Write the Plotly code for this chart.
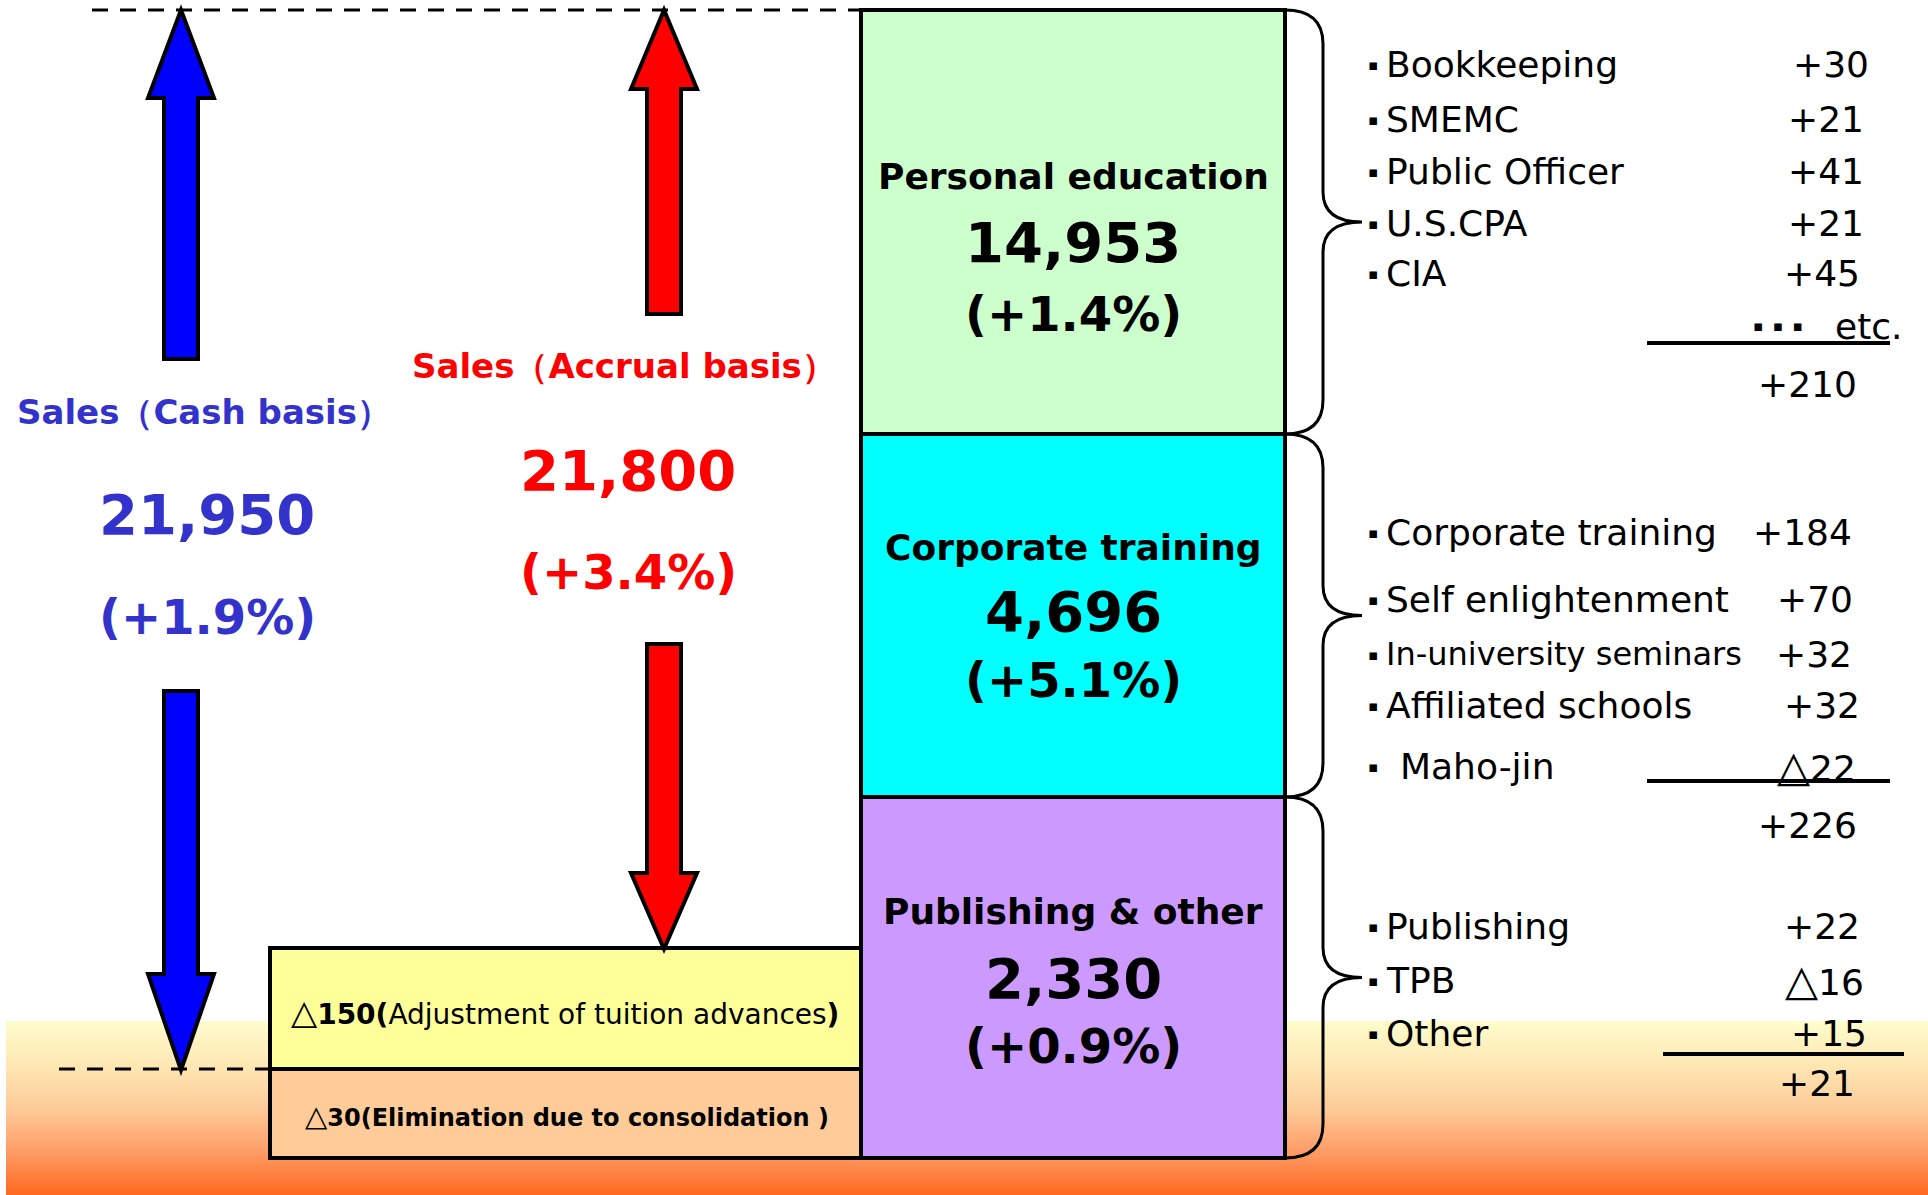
import plotly.graph_objects as go

# ---------------- data ----------------
segments = ["Personal education", "Corporate training", "Publishing & other"]
segment_sales = [14953, 4696, 2330]
segment_growth = [1.4, 5.1, 0.9]

cash_label = "Sales（Cash basis）"
cash_sales = 21950
cash_growth = 1.9
accrual_label = "Sales（Accrual basis）"
accrual_sales = 21800
accrual_growth = 3.4

tuition_adj = -150
tuition_label = "Adjustment of tuition advances"
elim_adj = -30
elim_label = "Elimination due to consolidation "

pe_items = ["Bookkeeping", "SMEMC", "Public Officer", "U.S.CPA", "CIA"]
pe_deltas = [30, 21, 41, 21, 45]
pe_total = 210

ct_items = ["Corporate training", "Self enlightenment", "In-university seminars",
            "Affiliated schools", "Maho-jin"]
ct_deltas = [184, 70, 32, 32, -22]
ct_total = 226

po_items = ["Publishing", "TPB", "Other"]
po_deltas = [22, -16, 15]
po_total = 21

# ---------------- helpers ----------------
FONT = "DejaVu Sans"
BLUE_TXT = "#3333cc"
RED_TXT = "#ff0000"


def tri(size):
    return f"<span style='font-size:{size}px'>△</span>"


def fmt_delta(v, size=36):
    return f"+{v}" if v >= 0 else f"{tri(round(size * 1.2))}{abs(v)}"


def fmt_num(v):
    return f"{v:,}"


def fmt_pct(v):
    return f"(+{v:.1f}%)"


def lerp_color(stops, t):
    for i in range(len(stops) - 1):
        t0, c0 = stops[i]
        t1, c1 = stops[i + 1]
        if t0 <= t <= t1:
            f = (t - t0) / (t1 - t0) if t1 > t0 else 0
            a = [int(c0[k:k + 2], 16) for k in (1, 3, 5)]
            b = [int(c1[k:k + 2], 16) for k in (1, 3, 5)]
            c = [round(a[j] + (b[j] - a[j]) * f) for j in range(3)]
            return "rgb(%d,%d,%d)" % tuple(c)
    return stops[-1][1]


fig = go.Figure()
fig.add_trace(go.Scatter(x=[0], y=[0], mode="markers", marker=dict(opacity=0),
                         hoverinfo="skip", showlegend=False))

shapes = []
annotations = []

# ---------------- background gradient ----------------
g_top, g_bot, g_left = 1021, 1195, 6
grad_stops = [(0.0, "#fffccc"), (0.25, "#fee8b4"), (0.5, "#fdcb99"),
              (0.75, "#fe9c66"), (1.0, "#ff6a1e")]
n_bands = 87
bh = (g_bot - g_top) / n_bands
for i in range(n_bands):
    t = (i + 0.5) / n_bands
    shapes.append(dict(type="rect", xref="x", yref="y", x0=g_left, x1=1928,
                       y0=g_top + i * bh, y1=g_top + (i + 1) * bh + 0.6,
                       fillcolor=lerp_color(grad_stops, t), line=dict(width=0),
                       layer="below"))

# ---------------- dashed guide lines ----------------
shapes.append(dict(type="line", x0=92, x1=861, y0=10, y1=10,
                   line=dict(color="black", width=3, dash="16px,12px")))
shapes.append(dict(type="line", x0=59, x1=270, y0=1069, y1=1069,
                   line=dict(color="black", width=3, dash="16px,12px")))

# ---------------- stacked segment boxes ----------------
box_x0, box_x1 = 861, 1285
box_edges = [10, 434, 797, 1158]
box_colors = ["#ccffcc", "#00ffff", "#cc99ff"]
for i in range(3):
    shapes.append(dict(type="rect", x0=box_x0, x1=box_x1, y0=box_edges[i],
                       y1=box_edges[i + 1], fillcolor=box_colors[i],
                       line=dict(color="black", width=4)))

# adjustment boxes
adj_x0, adj_x1 = 270, 861
adj_edges = [948, 1069, 1158]
adj_colors = ["#ffff99", "#ffcc99"]
for i in range(2):
    shapes.append(dict(type="rect", x0=adj_x0, x1=adj_x1, y0=adj_edges[i],
                       y1=adj_edges[i + 1], fillcolor=adj_colors[i],
                       line=dict(color="black", width=4)))


# ---------------- arrows ----------------
def arrow_path(cx, tip, base, tail, head_half=33, shaft_half=17):
    return (f"M {cx},{tip} L {cx - head_half},{base} L {cx - shaft_half},{base} "
            f"L {cx - shaft_half},{tail} L {cx + shaft_half},{tail} "
            f"L {cx + shaft_half},{base} L {cx + head_half},{base} Z")


arrows = [
    (181, 10, 98, 359, "#0000ff"),
    (181, 1070, 974, 691, "#0000ff"),
    (664, 10, 89, 314, "#ff0000"),
    (664, 949, 873, 644, "#ff0000"),
]
for cx, tip, base, tail, col in arrows:
    shapes.append(dict(type="path", path=arrow_path(cx, tip, base, tail),
                       fillcolor=col, line=dict(color="black", width=4)))


# ---------------- braces ----------------
def brace_path(y0, y1, xb=1285, xv=1323, xt=1362, r=34, rm=30):
    ym = (y0 + y1) / 2
    return (f"M {xb},{y0} Q {xv},{y0} {xv},{y0 + r} L {xv},{ym - rm} "
            f"Q {xv},{ym} {xt},{ym} Q {xv},{ym} {xv},{ym + rm} "
            f"L {xv},{y1 - r} Q {xv},{y1} {xb},{y1}")


for i in range(3):
    shapes.append(dict(type="path", path=brace_path(box_edges[i], box_edges[i + 1]),
                       line=dict(color="black", width=3)))


# ---------------- left texts ----------------
def ann(x, y, text, size, color="black", xanchor="center", bold=False):
    annotations.append(dict(x=x, y=y, xref="x", yref="y",
                            text=(f"<b>{text}</b>" if bold else text),
                            showarrow=False, xanchor=xanchor, yanchor="middle",
                            font=dict(family=FONT, size=size, color=color)))


ann(204, 412, cash_label, 34, BLUE_TXT, bold=True)
ann(207, 514, fmt_num(cash_sales), 56, BLUE_TXT, bold=True)
ann(207, 617, fmt_pct(cash_growth), 48, BLUE_TXT, bold=True)

ann(624, 366, accrual_label, 34, RED_TXT, bold=True)
ann(628, 470, fmt_num(accrual_sales), 56, RED_TXT, bold=True)
ann(628, 572, fmt_pct(accrual_growth), 48, RED_TXT, bold=True)

ann(565, 1012, f"<b>{tri(34)}{abs(tuition_adj)}(</b>{tuition_label}<b>)</b>", 28)
ann(567, 1116, f"{tri(29)}{abs(elim_adj)}({elim_label})", 24, bold=True)

# ---------------- segment texts ----------------
seg_title_y = [176, 547, 911]
seg_value_y = [242, 611, 978]
seg_pct_y = [314, 680, 1046]
seg_cx = (box_x0 + box_x1) / 2
for i in range(3):
    ann(seg_cx, seg_title_y[i], segments[i], 36, bold=True)
    ann(seg_cx, seg_value_y[i], fmt_num(segment_sales[i]), 56, bold=True)
    ann(seg_cx, seg_pct_y[i], fmt_pct(segment_growth[i]), 48, bold=True)

# ---------------- breakdown lists ----------------
bullet_x = 1373
label_x = 1384


def bullet(y):
    ann(bullet_x, y + 1, "▪", 15)


groups = [
    dict(items=pe_items, deltas=pe_deltas, total=pe_total,
         ys=[64, 119, 171, 223, 273], vx=[1871, 1866, 1866, 1866, 1862],
         sizes=[36] * 5, line_y=343, line_x=(1647, 1890), total_y=384, total_x=1859),
    dict(items=ct_items, deltas=ct_deltas, total=ct_total,
         ys=[532, 599, 654, 705, 766], vx=[1854, 1855, 1854, 1862, 1858],
         sizes=[36, 36, 32, 36, 36], line_y=781, line_x=(1647, 1890), total_y=825, total_x=1859),
    dict(items=po_items, deltas=po_deltas, total=po_total,
         ys=[926, 980, 1033], vx=[1862, 1866, 1869],
         sizes=[36] * 3, line_y=1054, line_x=(1663, 1904), total_y=1083, total_x=1857),
]

for g in groups:
    for name, d, y, vx, sz in zip(g["items"], g["deltas"], g["ys"], g["vx"], g["sizes"]):
        bullet(y)
        lx = label_x + (14 if name == "Maho-jin" else 0)
        ann(lx, y, name, sz, xanchor="left")
        ann(vx, y, fmt_delta(d), 36, xanchor="right")
    shapes.append(dict(type="line", x0=g["line_x"][0], x1=g["line_x"][1],
                       y0=g["line_y"], y1=g["line_y"], line=dict(color="black", width=4)))
    ann(g["total_x"], g["total_y"], fmt_delta(g["total"]), 36, xanchor="right")

# "... etc." row of the first group
ann(1778, 326, "▪  ▪  ▪", 15)
ann(1905, 326, "etc.", 36, xanchor="right")

fig.update_layout(
    width=1928, height=1195,
    margin=dict(l=0, r=0, t=0, b=0),
    paper_bgcolor="white", plot_bgcolor="white",
    xaxis=dict(range=[0, 1928], visible=False, fixedrange=True),
    yaxis=dict(range=[1195, 0], visible=False, fixedrange=True),
    shapes=shapes, annotations=annotations, showlegend=False,
)

fig.write_html("out.html",
               config={"displayModeBar": False},
               post_script="document.body.style.margin='0';document.body.style.overflow='hidden';")
